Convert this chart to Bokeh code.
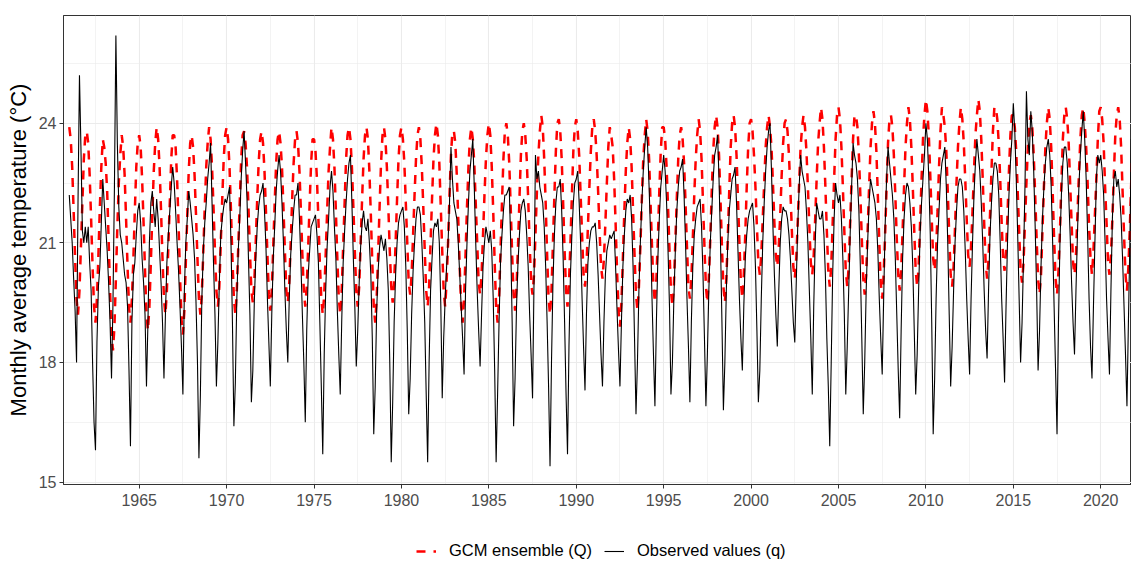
from bokeh.plotting import figure
from bokeh.layouts import column
from bokeh.models import Range1d, FixedTicker, Legend, LegendItem, ColumnDataSource
from bokeh.embed import file_html
from bokeh.resources import INLINE

years = list(range(1961, 2022))
months = list(range(12))

# Observed monthly mean temperature, one row per year (Jan..Dec)
observed = [
    [22.2, 21.6, 21.0, 20.1, 19.3, 18.0, 22.0, 25.2, 23.4, 21.3, 21.0, 21.4],
    [21.0, 21.4, 20.5, 19.8, 18.0, 16.5, 15.8, 18.5, 19.9, 20.4, 21.5, 22.6],
    [22.0, 21.4, 20.8, 20.0, 19.0, 17.6, 19.5, 22.4, 26.2, 23.5, 21.9, 21.2],
    [21.0, 20.6, 20.2, 20.0, 19.4, 17.8, 15.9, 19.0, 20.2, 20.5, 21.2, 21.8],
    [22.0, 21.5, 20.6, 20.0, 19.2, 17.4, 19.0, 21.0, 22.0, 22.3, 21.8, 21.4],
    [22.1, 21.6, 20.8, 20.0, 19.0, 17.6, 19.2, 20.5, 21.2, 21.8, 22.4, 22.9],
    [22.5, 21.8, 21.0, 20.3, 19.4, 18.4, 17.2, 19.8, 21.0, 21.6, 22.3, 22.0],
    [21.6, 21.2, 20.6, 19.5, 18.0, 15.6, 17.2, 19.6, 20.8, 21.5, 22.0, 22.6],
    [23.0, 23.5, 22.0, 20.5, 19.2, 17.4, 18.5, 20.0, 21.2, 21.6, 21.9, 22.1],
    [22.0, 22.2, 22.4, 21.0, 19.0, 16.4, 17.5, 19.6, 20.8, 21.6, 22.6, 23.3],
    [23.8, 23.0, 22.1, 20.6, 19.2, 17.0, 17.8, 19.5, 20.6, 21.4, 21.9, 22.2],
    [22.3, 22.5, 21.8, 20.9, 19.6, 18.5, 17.4, 19.2, 20.6, 21.4, 22.3, 22.8],
    [23.2, 22.8, 22.0, 21.0, 19.8, 18.8, 18.0, 19.6, 20.7, 21.3, 21.8, 22.2],
    [22.2, 22.5, 21.6, 20.5, 19.2, 18.0, 16.5, 18.8, 20.2, 20.8, 21.4, 21.5],
    [21.6, 21.7, 21.2, 20.5, 19.0, 17.4, 15.7, 18.2, 19.8, 20.9, 21.6, 22.4],
    [22.8, 22.3, 21.4, 20.6, 19.3, 18.2, 17.2, 19.0, 20.5, 21.3, 22.0, 22.6],
    [23.0, 23.2, 22.0, 20.6, 19.4, 17.9, 18.8, 20.0, 20.9, 21.5, 21.8, 21.4],
    [21.3, 21.6, 21.0, 20.2, 18.6, 16.2, 17.4, 19.3, 20.3, 20.9, 21.2, 21.0],
    [20.8, 21.1, 20.6, 19.8, 18.0, 15.5, 17.0, 19.0, 20.2, 21.0, 21.5, 21.7],
    [21.8, 21.9, 21.4, 20.4, 18.8, 16.7, 17.6, 19.2, 20.3, 21.0, 21.6, 21.9],
    [21.9, 21.7, 21.0, 20.1, 19.0, 17.2, 15.5, 18.0, 19.8, 20.6, 21.3, 21.5],
    [21.4, 21.6, 21.0, 19.5, 17.1, 18.6, 19.6, 20.4, 21.0, 22.0, 23.4, 22.6],
    [22.0, 21.8, 21.6, 21.0, 20.2, 19.4, 18.6, 17.7, 19.8, 21.0, 22.0, 22.8],
    [23.2, 23.6, 22.4, 21.0, 19.8, 18.8, 17.9, 19.2, 20.4, 21.0, 21.4, 21.2],
    [21.0, 21.3, 20.8, 19.6, 17.8, 15.5, 17.2, 19.0, 20.5, 21.2, 21.8, 22.2],
    [22.2, 22.3, 22.4, 21.0, 19.0, 16.4, 17.6, 19.4, 20.5, 21.2, 21.8, 22.0],
    [22.1, 21.8, 21.2, 20.4, 19.2, 18.2, 17.1, 20.0, 23.2, 22.6, 22.8, 22.4],
    [22.2, 22.0, 21.4, 20.4, 19.0, 17.4, 15.4, 18.0, 20.0, 21.2, 22.0, 22.4],
    [22.4, 22.6, 21.8, 20.6, 19.0, 17.2, 15.7, 18.4, 20.2, 21.2, 22.0, 22.5],
    [22.6, 22.8, 22.0, 21.0, 19.6, 18.4, 17.3, 19.2, 20.5, 21.0, 21.3, 21.4],
    [21.4, 21.5, 21.0, 20.2, 19.2, 18.2, 17.4, 19.0, 20.2, 20.8, 21.0, 21.2],
    [21.1, 21.2, 21.3, 20.4, 19.3, 18.3, 17.4, 19.0, 20.4, 21.2, 21.8, 22.1],
    [22.0, 22.2, 21.6, 20.4, 18.6, 16.7, 18.0, 19.8, 21.0, 22.0, 22.8, 23.4],
    [23.9, 23.4, 22.4, 21.2, 19.6, 18.2, 16.9, 19.0, 20.6, 21.6, 22.4, 22.8],
    [23.2, 22.8, 22.0, 20.8, 19.4, 17.2, 18.0, 19.6, 20.8, 21.8, 22.4, 22.8],
    [22.9, 23.1, 22.2, 21.0, 19.6, 18.4, 17.0, 19.0, 20.4, 21.2, 21.6, 21.9],
    [22.0, 22.1, 21.4, 20.2, 18.6, 16.9, 18.2, 19.8, 21.0, 21.8, 22.6, 23.2],
    [23.4, 23.7, 22.6, 21.0, 19.0, 16.8, 18.0, 19.8, 21.0, 21.8, 22.2, 22.6],
    [22.7, 22.9, 22.0, 20.8, 19.6, 18.6, 17.8, 19.4, 20.6, 21.2, 21.6, 21.8],
    [21.9, 22.0, 21.4, 20.4, 18.8, 17.0, 17.8, 19.6, 21.0, 22.0, 22.8, 23.4],
    [23.8, 24.0, 22.8, 21.4, 20.2, 19.2, 18.4, 19.8, 21.0, 21.6, 21.9, 21.8],
    [21.8, 21.6, 21.2, 20.6, 19.8, 19.0, 18.5, 20.0, 21.4, 22.4, 23.2, 22.8],
    [22.6, 22.4, 21.8, 21.0, 19.8, 18.6, 17.2, 19.4, 21.0, 22.0, 21.8, 21.6],
    [21.6, 21.8, 21.2, 20.2, 18.6, 17.4, 15.9, 18.0, 20.2, 21.6, 22.5, 22.2],
    [22.0, 22.2, 21.6, 20.6, 19.2, 17.2, 18.4, 19.8, 21.2, 22.4, 23.5, 23.2],
    [23.0, 22.6, 21.8, 20.4, 18.6, 16.7, 18.0, 19.8, 21.0, 22.0, 22.6, 22.4],
    [22.2, 22.0, 21.6, 20.8, 19.6, 18.6, 17.7, 19.6, 21.4, 22.6, 23.4, 23.0],
    [22.6, 22.2, 21.6, 20.6, 19.2, 17.8, 16.6, 18.8, 20.6, 21.6, 22.2, 22.5],
    [22.4, 22.0, 21.4, 20.4, 18.8, 17.2, 18.2, 19.8, 21.2, 22.0, 22.6, 23.2],
    [24.0, 23.6, 22.6, 21.2, 19.0, 16.2, 17.6, 19.6, 21.0, 21.8, 22.6, 23.0],
    [23.2, 23.4, 22.4, 21.0, 19.2, 17.4, 18.4, 19.8, 21.0, 21.8, 22.4, 22.6],
    [22.6, 22.4, 21.8, 20.8, 19.6, 18.6, 17.7, 19.6, 21.0, 22.2, 23.0, 23.6],
    [23.2, 22.8, 22.0, 21.0, 19.8, 18.8, 18.1, 19.8, 21.2, 22.0, 22.6, 23.0],
    [23.0, 22.8, 22.2, 21.0, 19.6, 18.6, 17.5, 19.4, 21.0, 22.2, 23.0, 23.6],
    [24.5, 23.8, 22.6, 21.2, 19.6, 18.0, 19.0, 20.6, 22.4, 24.8, 23.6, 23.2],
    [24.3, 23.8, 22.8, 21.4, 19.8, 17.8, 18.8, 20.4, 21.6, 22.4, 23.0, 23.4],
    [23.6, 23.2, 22.4, 21.0, 19.4, 17.8, 16.2, 19.0, 21.0, 22.2, 23.0, 23.4],
    [23.4, 23.0, 22.2, 21.2, 20.0, 19.0, 18.2, 19.8, 21.2, 22.4, 23.2, 23.8],
    [24.3, 23.6, 22.6, 21.2, 19.6, 18.4, 17.6, 19.4, 21.0, 22.6, 23.2, 23.0],
    [23.2, 22.8, 22.2, 21.0, 19.6, 18.6, 17.7, 19.8, 21.6, 22.6, 22.8, 22.4],
    [22.6, 22.2, 21.6, 20.6, 19.4, 18.2, 16.9, 19.0, 21.0, 23.6, 22.8, 22.6],
]

# GCM ensemble monthly mean temperature, one row per year (Jan..Dec)
gcm = [
    [23.9, 23.6, 22.9, 21.8, 20.6, 19.6, 19.2, 19.8, 20.9, 22.0, 23.1, 23.7],
    [23.8, 23.5, 22.7, 21.6, 20.4, 19.4, 19.0, 19.6, 20.7, 21.9, 22.9, 23.6],
    [23.4, 23.0, 22.3, 21.1, 19.8, 18.7, 18.3, 18.9, 20.1, 21.4, 22.5, 23.2],
    [23.7, 23.4, 22.7, 21.6, 20.4, 19.4, 19.0, 19.6, 20.6, 21.8, 22.9, 23.5],
    [23.7, 23.4, 22.6, 21.5, 20.3, 19.2, 18.8, 19.4, 20.5, 21.7, 22.8, 23.5],
    [23.9, 23.6, 22.9, 21.8, 20.6, 19.6, 19.2, 19.8, 20.9, 22.0, 23.1, 23.7],
    [23.7, 23.4, 22.6, 21.5, 20.2, 19.1, 18.7, 19.3, 20.5, 21.7, 22.8, 23.5],
    [23.7, 23.4, 22.7, 21.7, 20.6, 19.6, 19.2, 19.7, 20.8, 21.9, 22.9, 23.5],
    [23.9, 23.6, 22.9, 21.9, 20.8, 19.8, 19.4, 19.9, 21.0, 22.1, 23.1, 23.7],
    [23.9, 23.6, 22.9, 21.8, 20.6, 19.6, 19.2, 19.8, 20.9, 22.0, 23.1, 23.7],
    [23.8, 23.5, 22.9, 21.9, 20.8, 19.8, 19.5, 20.0, 21.0, 22.1, 23.0, 23.6],
    [23.8, 23.5, 22.8, 21.8, 20.7, 19.7, 19.3, 19.8, 20.9, 22.0, 23.0, 23.6],
    [23.8, 23.5, 22.9, 21.9, 20.8, 19.8, 19.5, 20.0, 21.0, 22.1, 23.0, 23.6],
    [23.8, 23.5, 22.8, 21.8, 20.7, 19.8, 19.4, 19.9, 20.9, 22.0, 23.0, 23.6],
    [23.6, 23.3, 22.6, 21.6, 20.5, 19.6, 19.2, 19.7, 20.7, 21.8, 22.8, 23.4],
    [23.9, 23.6, 22.9, 21.8, 20.6, 19.6, 19.2, 19.8, 20.9, 22.0, 23.1, 23.7],
    [23.9, 23.6, 22.9, 21.9, 20.8, 19.8, 19.4, 19.9, 21.0, 22.1, 23.1, 23.7],
    [23.9, 23.6, 22.8, 21.7, 20.5, 19.4, 19.0, 19.6, 20.7, 21.9, 23.0, 23.7],
    [23.9, 23.6, 22.9, 21.9, 20.8, 19.9, 19.5, 20.0, 21.0, 22.1, 23.1, 23.7],
    [23.9, 23.6, 23.0, 22.0, 21.0, 20.0, 19.7, 20.2, 21.2, 22.2, 23.1, 23.7],
    [23.9, 23.6, 22.9, 21.9, 20.8, 19.8, 19.4, 19.9, 21.0, 22.1, 23.1, 23.7],
    [24.0, 23.7, 23.0, 21.9, 20.8, 19.8, 19.4, 20.0, 21.0, 22.2, 23.2, 23.8],
    [23.8, 23.5, 22.7, 21.6, 20.4, 19.4, 19.0, 19.6, 20.7, 21.9, 22.9, 23.6],
    [23.9, 23.6, 23.0, 22.0, 21.0, 20.0, 19.7, 20.2, 21.2, 22.2, 23.1, 23.7],
    [24.0, 23.7, 22.9, 21.8, 20.5, 19.4, 19.0, 19.6, 20.8, 22.0, 23.1, 23.8],
    [24.0, 23.7, 23.0, 21.9, 20.7, 19.7, 19.3, 19.9, 20.9, 22.1, 23.2, 23.8],
    [24.0, 23.7, 23.1, 22.1, 21.0, 20.0, 19.7, 20.2, 21.2, 22.3, 23.2, 23.8],
    [24.2, 23.9, 23.1, 22.0, 20.7, 19.6, 19.2, 19.8, 21.0, 22.2, 23.3, 24.0],
    [24.1, 23.8, 23.1, 22.0, 20.8, 19.8, 19.4, 20.0, 21.0, 22.2, 23.3, 23.9],
    [24.1, 23.8, 23.2, 22.2, 21.2, 20.2, 19.9, 20.4, 21.4, 22.4, 23.3, 23.9],
    [24.1, 23.8, 23.2, 22.3, 21.3, 20.4, 20.1, 20.6, 21.5, 22.5, 23.4, 23.9],
    [23.7, 23.4, 22.6, 21.5, 20.3, 19.3, 18.9, 19.5, 20.6, 21.8, 22.8, 23.5],
    [23.9, 23.6, 22.9, 21.8, 20.7, 19.7, 19.3, 19.9, 20.9, 22.1, 23.1, 23.7],
    [24.1, 23.8, 23.1, 22.0, 20.9, 19.9, 19.5, 20.1, 21.1, 22.3, 23.3, 23.9],
    [23.9, 23.6, 22.9, 21.9, 20.8, 19.8, 19.4, 19.9, 21.0, 22.1, 23.1, 23.7],
    [23.9, 23.6, 23.0, 22.0, 20.9, 19.9, 19.6, 20.1, 21.1, 22.2, 23.1, 23.7],
    [24.1, 23.8, 23.1, 22.0, 20.9, 19.9, 19.5, 20.1, 21.1, 22.3, 23.3, 23.9],
    [24.2, 23.9, 23.2, 22.1, 20.9, 19.9, 19.5, 20.1, 21.1, 22.3, 23.4, 24.0],
    [24.2, 23.9, 23.2, 22.1, 21.0, 20.0, 19.6, 20.2, 21.2, 22.4, 23.4, 24.0],
    [24.1, 23.8, 23.2, 22.4, 21.4, 20.5, 20.2, 20.7, 21.6, 22.5, 23.4, 23.9],
    [24.2, 23.9, 23.4, 22.5, 21.5, 20.7, 20.4, 20.9, 21.7, 22.7, 23.5, 24.0],
    [24.1, 23.8, 23.2, 22.3, 21.3, 20.4, 20.1, 20.6, 21.5, 22.5, 23.4, 23.9],
    [24.2, 23.9, 23.3, 22.4, 21.4, 20.5, 20.2, 20.7, 21.6, 22.6, 23.5, 24.0],
    [24.4, 24.1, 23.4, 22.4, 21.3, 20.3, 19.9, 20.4, 21.5, 22.6, 23.6, 24.2],
    [24.4, 24.1, 23.4, 22.4, 21.3, 20.3, 19.9, 20.4, 21.5, 22.6, 23.6, 24.2],
    [24.2, 23.9, 23.2, 22.2, 21.1, 20.1, 19.7, 20.2, 21.3, 22.4, 23.4, 24.0],
    [24.3, 24.0, 23.3, 22.2, 21.0, 20.0, 19.6, 20.2, 21.2, 22.4, 23.5, 24.1],
    [24.2, 23.9, 23.2, 22.2, 21.1, 20.2, 19.8, 20.3, 21.3, 22.4, 23.4, 24.0],
    [24.4, 24.1, 23.4, 22.4, 21.3, 20.3, 19.9, 20.4, 21.5, 22.6, 23.6, 24.2],
    [24.6, 24.3, 23.7, 22.7, 21.6, 20.6, 20.3, 20.8, 21.8, 22.9, 23.8, 24.4],
    [24.2, 23.9, 23.3, 22.3, 21.2, 20.2, 19.9, 20.4, 21.4, 22.5, 23.4, 24.0],
    [24.4, 24.1, 23.5, 22.6, 21.6, 20.7, 20.4, 20.9, 21.8, 22.8, 23.7, 24.2],
    [24.6, 24.3, 23.6, 22.6, 21.5, 20.5, 20.1, 20.6, 21.7, 22.8, 23.8, 24.4],
    [24.4, 24.1, 23.5, 22.6, 21.5, 20.6, 20.3, 20.8, 21.7, 22.8, 23.7, 24.2],
    [24.2, 23.9, 23.3, 22.3, 21.3, 20.3, 20.0, 20.5, 21.5, 22.5, 23.4, 24.0],
    [24.2, 23.9, 23.2, 22.2, 21.1, 20.1, 19.7, 20.2, 21.3, 22.4, 23.4, 24.0],
    [24.4, 24.1, 23.4, 22.3, 21.1, 20.1, 19.7, 20.3, 21.3, 22.5, 23.6, 24.2],
    [24.4, 24.1, 23.5, 22.5, 21.5, 20.5, 20.2, 20.7, 21.7, 22.7, 23.6, 24.2],
    [24.4, 24.0, 23.4, 22.5, 21.4, 20.6, 20.2, 20.8, 21.7, 22.6, 23.6, 24.3],
    [24.4, 24.1, 23.5, 22.4, 21.5, 20.5, 20.2, 20.7, 21.6, 22.7, 23.7, 24.2],
    [24.4, 24.1, 23.4, 22.3, 21.2, 20.2, 19.8, 20.4, 21.4, 22.6, 23.6, 24.2],
]

x_ticks = [1965, 1970, 1975, 1980, 1985, 1990, 1995, 2000, 2005, 2010, 2015, 2020]
x_minor = [1962.5, 1967.5, 1972.5, 1977.5, 1982.5, 1987.5, 1992.5, 1997.5, 2002.5, 2007.5, 2012.5, 2017.5]
y_ticks = [15, 18, 21, 24]
y_minor = [16.5, 19.5, 22.5, 25.5]
series_labels = ["GCM ensemble (Q)", "Observed values (q)"]

t = [y + m / 12 for y in years for m in months]
obs_vals = [v for row in observed for v in row]
gcm_vals = [v for row in gcm for v in row]
src = ColumnDataSource(dict(t=t, obs=obs_vals, gcm=gcm_vals))

FONT = "Liberation Sans"
RED_STYLE = dict(line_color="#FF0000", line_width=2.5, line_dash="9 8")
BLACK_STYLE = dict(line_color="#000000", line_width=1.1)

p = figure(width=1131, height=533, output_backend="svg", toolbar_location=None,
           x_range=Range1d(1960.67, 2021.76), y_range=Range1d(14.94, 26.70),
           min_border_left=63, min_border_right=0, min_border_top=15, min_border_bottom=49)
p.background_fill_color = "white"
p.border_fill_color = "white"
p.outline_line_color = "#333333"
p.outline_line_width = 1

p.line("t", "gcm", source=src, **RED_STYLE)
p.line("t", "obs", source=src, **BLACK_STYLE)

p.xaxis.ticker = FixedTicker(ticks=x_ticks, minor_ticks=x_minor)
p.yaxis.ticker = FixedTicker(ticks=y_ticks, minor_ticks=y_minor)

for ax in (p.xaxis, p.yaxis):
    ax.major_label_text_font = FONT
    ax.major_label_text_font_size = "16px"
    ax.major_label_text_color = "#4D4D4D"
    ax.major_tick_line_color = "#333333"
    ax.major_tick_out = 4
    ax.major_tick_in = 0
    ax.minor_tick_line_color = None
    ax.axis_line_color = "#333333"
    ax.axis_label_text_font = FONT
    ax.axis_label_text_font_style = "normal"
    ax.axis_label_text_color = "#000000"

p.yaxis.axis_label = "Monthly average temperature (\u00b0C)"
p.yaxis.axis_label_text_font_size = "22px"
p.yaxis.axis_label_standoff = 5
p.yaxis.major_label_standoff = 3
p.xaxis.major_label_standoff = 5

for g in (p.xgrid, p.ygrid):
    g.grid_line_color = "#EBEBEB"
    g.grid_line_width = 1.1
    g.minor_grid_line_color = "#EBEBEB"
    g.minor_grid_line_width = 0.6

# Legend strip below the chart (same series, drawn outside this strip's visible range)
leg = figure(width=1131, height=28, output_backend="svg", toolbar_location=None,
             x_range=Range1d(0, 1), y_range=Range1d(0, 1),
             min_border=0, outline_line_color=None)
leg.axis.visible = False
leg.grid.visible = False
leg.border_fill_color = "white"
lr_gcm = leg.line("t", "gcm", source=src, **RED_STYLE)
lr_obs = leg.line("t", "obs", source=src, **BLACK_STYLE)
legend = Legend(items=[LegendItem(label=series_labels[0], renderers=[lr_gcm]),
                       LegendItem(label=series_labels[1], renderers=[lr_obs])],
                orientation="horizontal", location=(353, 1),
                label_text_font=FONT, label_text_font_size="16.5px", label_text_color="#000000",
                border_line_color=None, background_fill_alpha=0,
                glyph_width=20, glyph_height=16, spacing=12, label_standoff=13,
                padding=2, margin=0)
leg.add_layout(legend, "center")

layout = column(p, leg, spacing=0)
open("out.html", "w").write(file_html(layout, INLINE))
